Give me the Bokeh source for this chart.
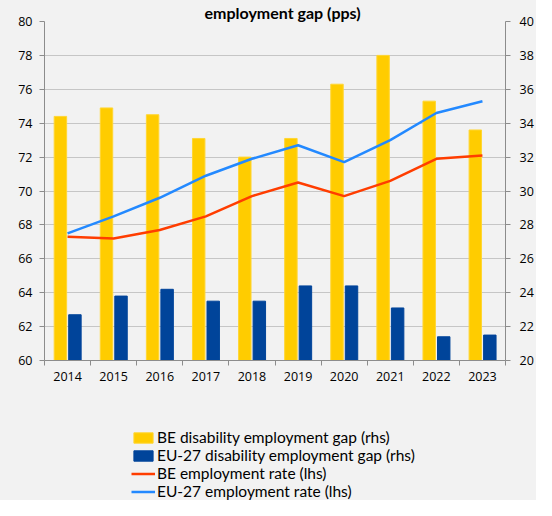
import numpy as np
from bokeh.plotting import figure
from bokeh.layouts import column
from bokeh.models import (Range1d, LinearAxis, FixedTicker, Legend, LegendItem,
                          ColumnDataSource)
from bokeh.transform import dodge
from bokeh.embed import file_html
from bokeh.resources import INLINE

years = ["2014", "2015", "2016", "2017", "2018", "2019", "2020", "2021", "2022", "2023"]
be_gap = [34.4, 34.9, 34.5, 33.1, 32.0, 33.1, 36.3, 38.0, 35.3, 33.6]
eu_gap = [22.7, 23.8, 24.2, 23.5, 23.5, 24.4, 24.4, 23.1, 21.4, 21.5]
be_rate = [67.3, 67.2, 67.7, 68.5, 69.7, 70.5, 69.7, 70.6, 71.9, 72.1]
eu_rate = [67.5, 68.5, 69.6, 70.9, 71.9, 72.7, 71.7, 73.0, 74.6, 75.3]
lhs_ticks = [60, 62, 64, 66, 68, 70, 72, 74, 76, 78, 80]
rhs_ticks = [20, 22, 24, 26, 28, 30, 32, 34, 36, 38, 40]
labels = ["BE disability employment gap (rhs)", "EU-27 disability employment gap (rhs)",
          "BE employment rate (lhs)", "EU-27 employment rate (lhs)"]
title_text = "employment gap (pps)"

FONT = "Open Sans"
LFONT = "Lato"
BG = "#F2F2F2"
AX = "#8C8C8C"
C_BE_BAR, C_EU_BAR, C_BE_LINE, C_EU_LINE = "#FFCC00", "#00449A", "#FF3D00", "#2389FF"

n = len(years)
xc = np.arange(n) + 0.5
src = ColumnDataSource(dict(x=xc, be_gap=be_gap, eu_gap=eu_gap, be_rate=be_rate, eu_rate=eu_rate))

W = 536
p = figure(width=W, height=392, output_backend="svg", toolbar_location=None,
           x_range=Range1d(0, n), y_range=Range1d(lhs_ticks[0], lhs_ticks[-1]),
           min_border_left=44, min_border_right=29, min_border_top=17, min_border_bottom=32,
           background_fill_color=BG, border_fill_color=BG, outline_line_color=None,
           title=title_text)
p.extra_y_ranges = {"rhs": Range1d(rhs_ticks[0], rhs_ticks[-1])}

p.title.align = "left"
p.title.offset = 160
p.title.standoff = 0
p.title.text_font = LFONT
p.title.text_font_size = "16px"
p.title.text_font_style = "bold"
p.title.text_color = "#000000"

# grid
p.xgrid.visible = False
p.ygrid.ticker = FixedTicker(ticks=lhs_ticks)
p.ygrid.grid_line_color = "#9A9A9A"
p.ygrid.grid_line_dash = "1 1"
p.ygrid.grid_line_width = 1

# bar / line styles
bw = 0.27
be_bar = dict(fill_color=C_BE_BAR, line_color="#FFD633", line_width=1)
eu_bar = dict(fill_color=C_EU_BAR, line_color=C_EU_BAR)

p.vbar(x=dodge("x", -0.155), top="be_gap", bottom=rhs_ticks[0], width=bw, source=src,
       y_range_name="rhs", **be_bar)
p.vbar(x=dodge("x", 0.16), top="eu_gap", bottom=rhs_ticks[0], width=bw, source=src,
       y_range_name="rhs", **eu_bar)
p.line(x="x", y="be_rate", source=src, line_color=C_BE_LINE, line_width=2.5)
p.line(x="x", y="eu_rate", source=src, line_color=C_EU_LINE, line_width=2.5)

# axes
def style_axis(ax):
    ax.axis_line_color = AX
    ax.major_tick_line_color = AX
    ax.minor_tick_line_color = AX
    ax.major_tick_in = 0
    ax.major_tick_out = 5
    ax.minor_tick_in = 0
    ax.minor_tick_out = 0
    ax.major_label_text_font = FONT
    ax.major_label_text_font_size = "12.5px"
    ax.major_label_text_color = "#000000"

yl = p.yaxis[0]
yl.ticker = FixedTicker(ticks=lhs_ticks)
style_axis(yl)
yl.major_label_standoff = 7

yr = LinearAxis(y_range_name="rhs", ticker=FixedTicker(ticks=rhs_ticks))
style_axis(yr)
yr.major_label_standoff = 9
p.add_layout(yr, "right")

xa = p.xaxis[0]
xa.ticker = FixedTicker(ticks=list(xc), minor_ticks=list(np.arange(n + 1)))
xa.major_label_overrides = {float(v): y for v, y in zip(xc, years)}
style_axis(xa)
xa.major_tick_out = 0
xa.minor_tick_out = 5
xa.major_label_standoff = 6

# legend in its own strip below the chart (same series, drawn outside the strip's view)
q = figure(width=W, height=108, output_backend="svg", toolbar_location=None,
           x_axis_type=None, y_axis_type=None,
           x_range=Range1d(1000, 1001), y_range=Range1d(1000, 1001),
           min_border_left=0, min_border_right=0, min_border_top=0, min_border_bottom=0,
           background_fill_color=BG, border_fill_color=BG, outline_line_color=None)
q.grid.visible = False
g1 = q.vbar(x="x", top="be_gap", width=bw, source=src, **be_bar)
g2 = q.vbar(x="x", top="eu_gap", width=bw, source=src, **eu_bar)
g3 = q.line(x="x", y="be_rate", source=src, line_color=C_BE_LINE, line_width=2.5)
g4 = q.line(x="x", y="eu_rate", source=src, line_color=C_EU_LINE, line_width=2.5)

legend = Legend(items=[LegendItem(label=lab, renderers=[g]) for lab, g in zip(labels, [g1, g2, g3, g4])],
                location=(87, 0), orientation="vertical")
legend.background_fill_alpha = 0
legend.border_line_color = None
legend.padding = 0
legend.margin = 0
legend.spacing = 0
legend.glyph_width = 24
legend.glyph_height = 13
legend.label_height = 17
legend.label_standoff = 2
legend.label_text_font = LFONT
legend.label_text_font_size = "15.5px"
legend.label_text_color = "#000000"
q.add_layout(legend, "center")

layout = column(p, q, spacing=0, styles={"background-color": BG})
open("out.html", "w").write(file_html(layout, INLINE))
